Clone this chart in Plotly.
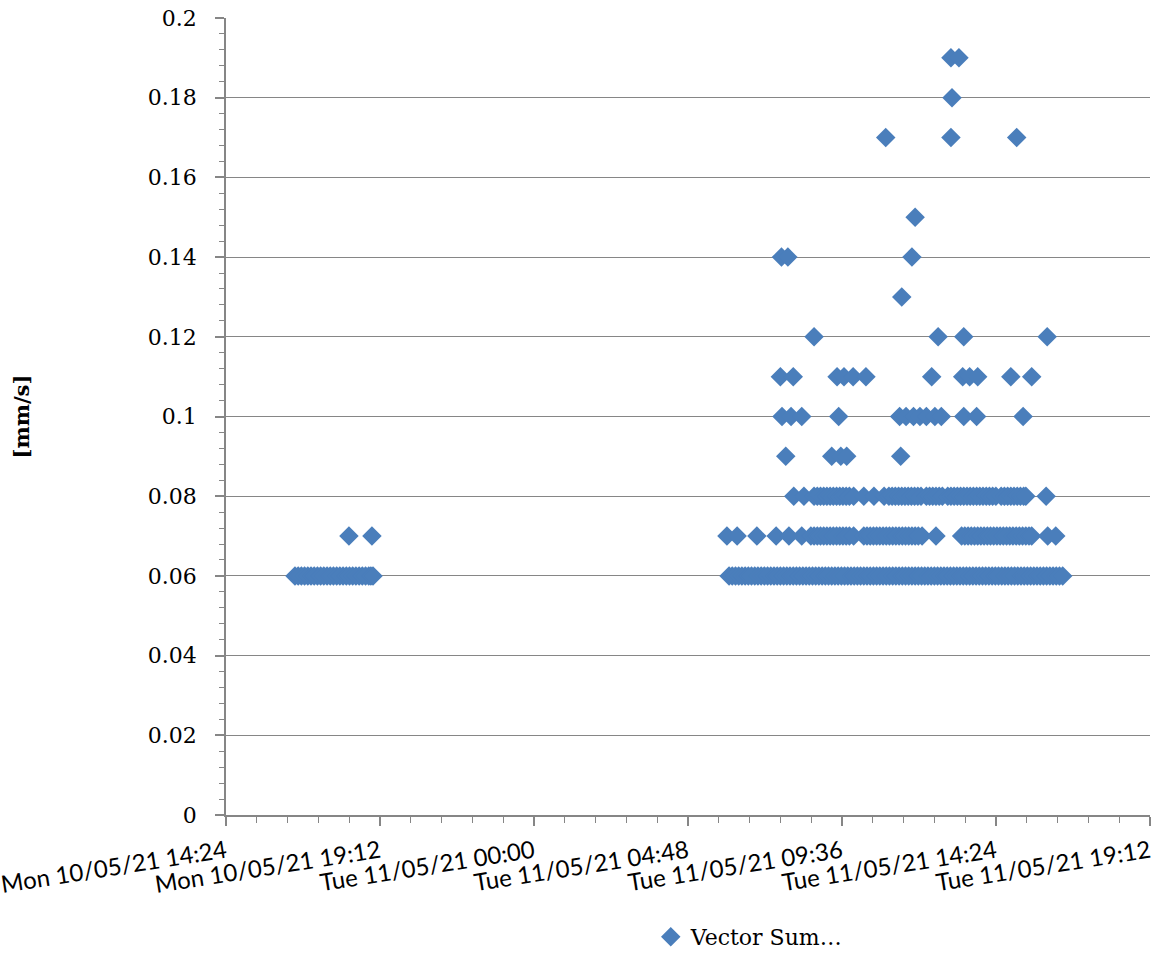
import plotly.graph_objects as go

# ---- data (time of day on each date, grouped by measured value) ----
mon_date = "2021-05-10"
tue_date = "2021-05-11"

mon_006 = ["16:33", "16:39", "16:45", "16:51", "16:57", "17:03", "17:09", "17:15", "17:21",
           "17:27", "17:33", "17:39", "17:45", "17:51", "17:57", "18:03", "18:09", "18:15",
           "18:21", "18:27", "18:33", "18:39", "18:45", "18:51", "18:55", "18:59"]
mon_007 = ["18:14", "18:57"]

tue_006 = ["06:05", "06:11", "06:17", "06:23", "06:29", "06:35", "06:41", "06:47", "06:53",
           "06:59", "07:05", "07:11", "07:17", "07:23", "07:29", "07:35", "07:41", "07:47",
           "07:53", "07:59", "08:05", "08:11", "08:17", "08:23", "08:29", "08:35", "08:41",
           "08:47", "08:53", "08:59", "09:05", "09:11", "09:17", "09:23", "09:29", "09:35",
           "09:41", "09:47", "09:53", "09:59", "10:05", "10:11", "10:17", "10:23", "10:29",
           "10:35", "10:41", "10:47", "10:53", "10:59", "11:05", "11:11", "11:17", "11:23",
           "11:29", "11:35", "11:41", "11:47", "11:53", "11:59", "12:05", "12:11", "12:17",
           "12:23", "12:29", "12:35", "12:41", "12:47", "12:53", "12:59", "13:05", "13:11",
           "13:17", "13:23", "13:29", "13:35", "13:41", "13:47", "13:53", "13:59", "14:05",
           "14:11", "14:17", "14:23", "14:29", "14:35", "14:41", "14:47", "14:53", "14:59",
           "15:05", "15:11", "15:17", "15:23", "15:29", "15:35", "15:41", "15:47", "15:53",
           "15:59", "16:05", "16:11", "16:17", "16:23", "16:29"]
tue_007 = ["06:01", "06:20", "06:57", "07:33", "07:57", "08:21", "08:38", "08:44", "08:50",
           "08:56", "09:02", "09:08", "09:14", "09:20", "09:26", "09:32", "09:38", "09:44",
           "09:50", "09:58", "10:17", "10:23", "10:29", "10:35", "10:41", "10:47", "10:53",
           "10:59", "11:05", "11:11", "11:17", "11:23", "11:29", "11:35", "11:41", "11:47",
           "11:53", "11:59", "12:06", "12:32", "13:20", "13:26", "13:32", "13:38", "13:44",
           "13:50", "13:56", "14:02", "14:08", "14:14", "14:20", "14:26", "14:32", "14:38",
           "14:44", "14:50", "14:56", "15:02", "15:08", "15:14", "15:20", "15:26", "15:31",
           "16:01", "16:16"]
tue_008 = ["08:06", "08:25", "08:44", "08:50", "08:56", "09:02", "09:08", "09:14", "09:20",
           "09:26", "09:32", "09:38", "09:44", "09:50", "09:58", "10:17", "10:36", "10:55",
           "11:04", "11:10", "11:16", "11:22", "11:28", "11:34", "11:40", "11:46", "11:52",
           "11:58", "12:04", "12:14", "12:20", "12:26", "12:32", "12:38", "12:44", "12:54",
           "13:00", "13:06", "13:12", "13:18", "13:24", "13:30", "13:36", "13:42", "13:48",
           "13:54", "14:00", "14:06", "14:12", "14:18", "14:24", "14:34", "14:40", "14:46",
           "14:52", "14:58", "15:04", "15:10", "15:16", "15:20", "15:58"]
tue_009 = ["07:51", "09:17", "09:34", "09:45", "11:26"]
tue_010 = ["07:44", "08:01", "08:21", "09:30", "11:24", "11:36", "11:50", "12:02", "12:14",
           "12:30", "12:42", "13:24", "13:48", "15:15"]
tue_011 = ["07:41", "08:05", "09:27", "09:40", "09:57", "10:21", "12:24", "13:22", "13:35",
           "13:50", "14:52", "15:31"]
tue_012 = ["08:44", "12:36", "13:24", "16:00"]
tue_013 = ["11:28"]
tue_014 = ["07:43", "07:55", "11:47"]
tue_015 = ["11:53"]
tue_017 = ["10:58", "13:00", "15:03"]
tue_018 = ["13:02"]
tue_019 = ["13:00", "13:15"]

groups = [
    (mon_date, mon_006, 0.06), (mon_date, mon_007, 0.07),
    (tue_date, tue_006, 0.06), (tue_date, tue_007, 0.07), (tue_date, tue_008, 0.08),
    (tue_date, tue_009, 0.09), (tue_date, tue_010, 0.10), (tue_date, tue_011, 0.11),
    (tue_date, tue_012, 0.12), (tue_date, tue_013, 0.13), (tue_date, tue_014, 0.14),
    (tue_date, tue_015, 0.15), (tue_date, tue_017, 0.17), (tue_date, tue_018, 0.18),
    (tue_date, tue_019, 0.19),
]

xs, ys = [], []
for d, times, v in groups:
    for t in times:
        xs.append(f"{d} {t}")
        ys.append(v)

series_name = "Vector Sum…"
y_title = "[mm/s]"

fig = go.Figure()
fig.add_trace(go.Scatter(
    x=xs, y=ys, mode="markers", name=series_name,
    marker=dict(symbol="diamond", size=15, color="#4A7EBB", line=dict(width=0)),
))

grid_col = "#868686"
fig.update_layout(
    width=1151, height=955,
    margin=dict(l=226, r=1, t=18, b=140, autoexpand=False),
    plot_bgcolor="white", paper_bgcolor="white",
    showlegend=True,
    legend=dict(orientation="h", x=0.4597, xanchor="left", y=-0.153, yanchor="middle",
                font=dict(family="DejaVu Serif", size=22, color="black"),
                itemwidth=30, tracegroupgap=0, bgcolor="rgba(0,0,0,0)"),
    annotations=[dict(text=f"<b>{y_title}</b>", xref="paper", yref="paper",
                      x=-0.2208, y=0.5, xanchor="center", yanchor="middle",
                      textangle=-90, showarrow=False,
                      font=dict(family="DejaVu Serif", size=21, color="black"))],
)
fig.update_xaxes(
    type="date", automargin=False,
    range=["2021-05-10 14:24", "2021-05-11 19:12:20"],
    tick0="2021-05-10 14:24", dtick=17280000,
    tickformat="%a %d/%m/%y %H:%M",
    tickangle=-9, ticklabelshift=0, ticklabelstandoff=3,
    ticklabeloverflow="allow",
    tickfont=dict(family="Lato", size=24, color="black"),
    ticks="outside", ticklen=9, tickcolor=grid_col, tickwidth=1.5,
    showline=True, linecolor=grid_col, linewidth=1.5,
    showgrid=False, zeroline=False,
    minor=dict(dtick=3456000, tick0="2021-05-10 14:24", ticks="outside",
               ticklen=6, tickcolor=grid_col, tickwidth=1.3, showgrid=False),
)
fig.update_yaxes(
    range=[0, 0.2], dtick=0.02, tick0=0, automargin=False,
    tickfont=dict(family="DejaVu Serif", size=22, color="black"),
    ticks="outside", ticklen=9, tickcolor=grid_col, tickwidth=1.5,
    ticklabelstandoff=14,
    showline=True, linecolor=grid_col, linewidth=1.5,
    showgrid=True, gridcolor=grid_col, gridwidth=1.3,
    zeroline=False,
    minor=dict(dtick=0.004, ticks="outside", ticklen=5, tickcolor=grid_col,
               tickwidth=1.3, showgrid=False),
)

fig.write_html(
    "out.html",
    config={"displayModeBar": False},
    post_script="document.body.style.margin='0';document.body.style.overflow='hidden';",
)
